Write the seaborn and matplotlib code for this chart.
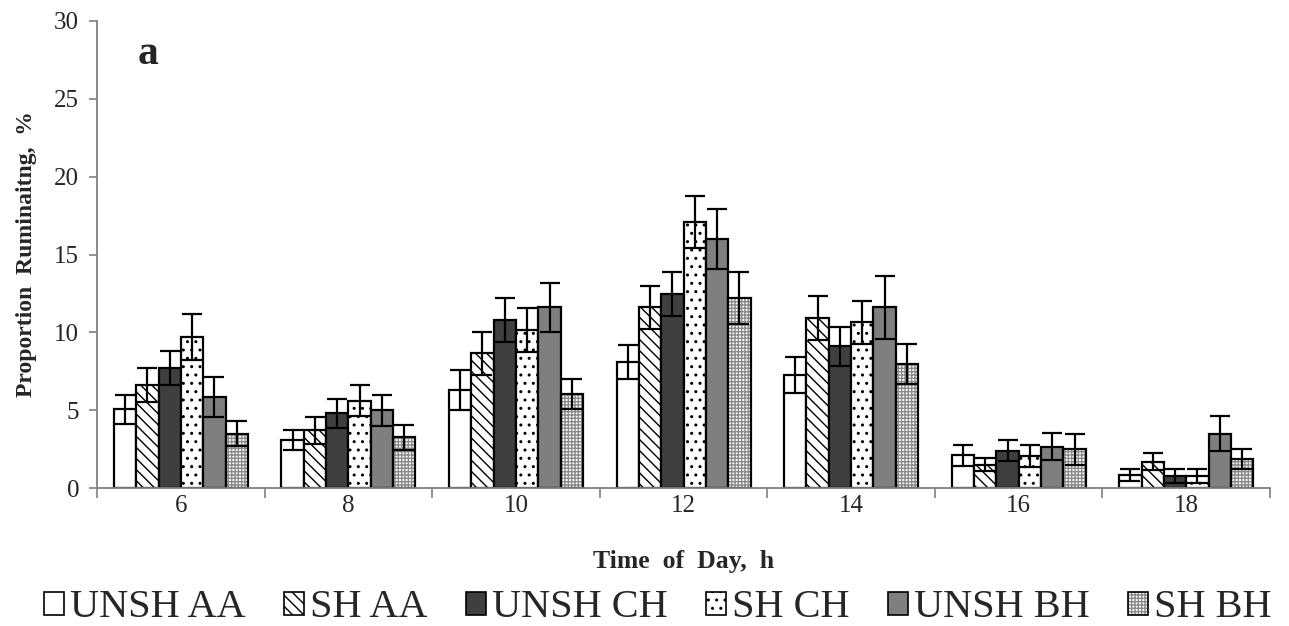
import numpy as np
import pandas as pd
import matplotlib
matplotlib.use("Agg")
import matplotlib.pyplot as plt
from matplotlib.patches import Patch
from matplotlib import colors as mcolors
import seaborn as sns

# Time points (h) and treatment groups
hours = ["6", "8", "10", "12", "14", "16", "18"]
groups = ["UNSH AA", "SH AA", "UNSH CH", "SH CH", "UNSH BH", "SH BH"]

# Mean proportion ruminating (%) per treatment, one value per hour
unsh_aa = [5.05, 3.08, 6.3, 8.1, 7.25, 2.1, 0.83]
sh_aa = [6.6, 3.7, 8.65, 11.6, 10.9, 1.5, 1.7]
unsh_ch = [7.7, 4.8, 10.8, 12.45, 9.1, 2.4, 0.78]
sh_ch = [9.7, 5.6, 10.15, 17.1, 10.65, 2.05, 0.75]
unsh_bh = [5.85, 5.0, 11.6, 16.0, 11.6, 2.65, 3.5]
sh_bh = [3.5, 3.25, 6.05, 12.2, 7.95, 2.5, 1.85]

# Standard errors
se_unsh_aa = [0.95, 0.65, 1.3, 1.1, 1.15, 0.68, 0.37]
se_sh_aa = [1.1, 0.85, 1.4, 1.4, 1.42, 0.43, 0.54]
se_unsh_ch = [1.1, 0.92, 1.4, 1.4, 1.25, 0.66, 0.43]
se_sh_ch = [1.5, 1.0, 1.4, 1.68, 1.37, 0.7, 0.45]
se_unsh_bh = [1.27, 1.0, 1.57, 1.93, 2.0, 0.86, 1.1]
se_sh_bh = [0.82, 0.8, 0.95, 1.65, 1.27, 1.0, 0.64]

means = [unsh_aa, sh_aa, unsh_ch, sh_ch, unsh_bh, sh_bh]
errors = [se_unsh_aa, se_sh_aa, se_unsh_ch, se_sh_ch, se_unsh_bh, se_sh_bh]

rows = []
for g, m_list, e_list in zip(groups, means, errors):
    for h, m, e in zip(hours, m_list, e_list):
        rows.append({"hour": h, "group": g, "mean": m, "se": e})
df = pd.DataFrame(rows)

# Fill colour, hatch and hatch colour for each treatment
styles = {
    "UNSH AA": ("white", "", "black"),
    "SH AA": ("white", "\\\\\\", "black"),
    "UNSH CH": ("#3f3f3f", "", "black"),
    "SH CH": ("white", "..", "black"),
    "UNSH BH": ("#7f7f7f", "", "black"),
    "SH BH": ("white", "+++++", "#8a8a8a"),
}

sns.set_theme(style="white")
plt.rcParams["font.family"] = ["Liberation Serif", "DejaVu Serif"]
plt.rcParams["hatch.linewidth"] = 1.0

fig = plt.figure(figsize=(12.89, 6.26), dpi=100)
ax = fig.add_axes([0.0753, 0.2204, 0.9100, 0.7461])

sns.barplot(data=df, x="hour", y="mean", hue="group", order=hours,
            hue_order=groups, errorbar=None, width=0.8, ax=ax,
            palette=["white"] * 6, edgecolor="black", linewidth=1.6,
            legend=False, saturation=1)


def style_patch(patch, fc, hatch, hcolor):
    patch.set_facecolor(fc)
    patch.set_hatch(hatch)
    patch.set_edgecolor(hcolor)
    # keep the hatch colour, outline in black
    patch._edgecolor = mcolors.to_rgba("black")


# Apply styles and error bars per treatment container
for container, g in zip(ax.containers, groups):
    fc, hatch, hcolor = styles[g]
    sub = df[df["group"] == g].set_index("hour").loc[hours]
    xs, ys = [], []
    for patch in container.patches:
        style_patch(patch, fc, hatch, hcolor)
        xs.append(patch.get_x() + patch.get_width() / 2)
        ys.append(patch.get_height())
    ax.errorbar(xs, ys, yerr=sub["se"].values, fmt="none", ecolor="black",
                elinewidth=1.6, capsize=7, capthick=1.6, zorder=5)

ax.set_ylim(0, 30)
ax.set_xlim(-0.5, len(hours) - 0.5)
ax.set_yticks(np.arange(0, 31, 5))
ax.tick_params(axis="y", labelsize=18, length=6, width=1.2, color="#808080",
               direction="out", left=True, pad=7)
ax.tick_params(axis="x", labelsize=18, length=0, pad=5)
ax.set_xticks(np.arange(-0.5, len(hours), 1.0), minor=True)
ax.tick_params(axis="x", which="minor", length=7, width=1.2, color="#808080",
               direction="out", bottom=True)

for side in ["top", "right"]:
    ax.spines[side].set_visible(False)
for side in ["left", "bottom"]:
    ax.spines[side].set_color("#808080")
    ax.spines[side].set_linewidth(1.3)

ax.set_xlabel("Time  of  Day,  h", fontsize=18.5, fontweight="bold",
              labelpad=24)
ax.set_ylabel("Proportion  Ruminaitng,  %", fontsize=17, fontweight="bold",
              labelpad=12)

ax.text(0.035, 0.93, "a", transform=ax.transAxes, fontsize=30,
        fontweight="bold", va="center", ha="left")

handles = []
for g in groups:
    fc, hatch, hcolor = styles[g]
    p = Patch(facecolor=fc, hatch=hatch, edgecolor=hcolor, linewidth=1.2)
    p._edgecolor = mcolors.to_rgba("black")
    handles.append(p)
fig.legend(handles, groups, loc="center", bbox_to_anchor=(0.5105, 0.029),
           ncol=6, frameon=False, fontsize=29, handlelength=0.5,
           handleheight=0.5, handletextpad=0.15, columnspacing=0.95)

fig.savefig("out.png", dpi=100, facecolor="white")
